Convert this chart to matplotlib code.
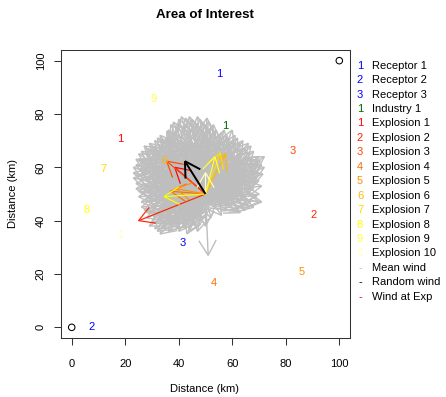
import numpy as np
import matplotlib
matplotlib.use('Agg')
import matplotlib.pyplot as plt
from matplotlib.collections import LineCollection

plt.rcParams['font.family'] = ['Liberation Sans', 'DejaVu Sans']

# ---------------- data ----------------
receptor_x = [55, 7.5, 41.5]
receptor_y = [95, 0, 31.5]
industry_x = [57.2]
industry_y = [75.6]
explosion_x = [18, 90.5, 82.7, 53, 86, 34.5, 12, 5.5, 30.7, 18]
explosion_y = [70.8, 42, 66.3, 16.5, 20.8, 62.5, 59.2, 44, 85.7, 34.6]
explosion_colors = ["#FF0000", "#FF2400", "#FF4900", "#FF6D00", "#FF9200",
                    "#FFB600", "#FFDB00", "#FFFF00", "#FFFF40", "#FFFFBF"]
corner_x = [0, 100]
corner_y = [0, 100]

origin_x, origin_y = 50, 50

# wind at each explosion (arrow tips)
exp_wind_x = [38.5, 25, 35.5, 37, 39, 57.5, 55.5, 34.5, 53.5, 50]
exp_wind_y = [60, 40, 62.3, 51, 52, 65, 65.5, 49, 64, 58]

# random (current) wind arrow tip
random_wind_x = [42.3]
random_wind_y = [62.3]

# mean wind ensemble arrow tips
mean_wind = [
    (36,74),(38,77),(40,78),(42,76),(44,79),(46,77),(48,78),(50,76),(52,75),(54,74),(56,73),
    (39,75),(43,77),(47,79),(51,77),
    (58,72),(60,74),(62,71),(64,70),(66,69),(68,66),(70,64),(72,64),(71,61),(70,58),(69,56),
    (71,53),(70,50),
    (70,47),(71,47),(68,45),(65,44),(66,46),(63,43),
    (58,44),(56,42),(54,45),
    (51,27),(48,40),(46,38),(44,36),(42,37),(39,37),
    (36,36),(33,35),(31,37),(29,38),(28,41),(27,44),
    (26,47),(25,51),(24,54),(24,57),(23,60),(24,63),(25,65),(27,68),(29,69),(31,70),(34,70),
    (33,72),(36,72),
    (35,69),(38,71),(41,70),(44,72),(47,71),(50,70),(53,69),(56,70),(59,68),(62,67),
    (30,65),(33,67),(36,66),(39,68),(42,67),(45,66),(48,68),(51,66),(54,67),(57,65),(60,66),
    (63,64),(66,63),
    (27,61),(30,62),(33,60),(36,63),(39,61),(42,64),(45,62),(48,61),(51,63),(54,61),(57,62),
    (60,60),(63,61),(66,59),(68,61),
    (26,58),(29,57),(32,59),(35,58),(38,56),(41,59),(44,57),(47,58),(50,56),(53,58),(56,57),
    (59,56),(62,58),(65,55),
    (27,53),(30,55),(33,53),(36,54),(39,52),(42,55),(45,53),(48,54),(52,53),(55,52),(58,54),
    (61,52),(64,51),(67,53),
    (28,49),(31,50),(34,48),(37,50),(40,47),(43,49),(46,51),(55,49),(58,48),(61,47),
    (30,45),(33,44),(36,46),(39,43),(42,45),(45,44),(48,46),
    (32,40),(35,42),(38,40),(41,41),(44,40),
    (34,64),(37,59),(40,63),(43,61),(46,64),(41,57),(38,65),(44,68),(36,61),(42,53),
    (39,58),(45,60),(47,55),(35,56),(31,60),(43,73),(49,74),(37,68),(33,62),(29,60),
    (37,76),(41,79),(45,78),(49,77),(53,76),(55,72),(57,74),(59,71),(61,72),(63,69),(65,67),
    (67,68),(69,63),(72,60),(70,55),(68,52),(69,49),(67,47),(64,45),(62,44),(60,45),
    (52,41),(50,38),(47,36),(43,35),(40,36),(37,38),(34,37),(32,36),(30,39),(28,43),(26,45),
    (25,49),(24,52),(23,56),(23,58),(24,61),(25,63),(26,66),(28,67),(30,68),(32,71),(35,71),
    (38,73),
    (31,66),(34,68),(37,70),(40,69),(43,70),(46,69),(49,71),(52,71),(55,68),(58,66),(61,64),
    (64,62),(67,57),
    (28,63),(31,63),(34,61),(37,62),(40,60),(43,63),(46,61),(49,60),(52,60),(55,59),(58,59),
    (61,56),(64,56),
    (28,55),(31,52),(34,55),(37,53),(40,55),(43,55),(46,56),(49,57),(52,56),(55,55),(58,52),
    (62,50),(65,49),
    (29,47),(32,47),(35,45),(38,46),(41,44),(44,46),(47,47),(53,47),(56,46),(59,46),
    (33,42),(36,40),(39,41),(42,42),(45,42),(48,43),(34,39),(37,43),(31,42),(29,51),
    (35.5,73.5),(39.5,76.5),(42.5,78.5),(46.5,75.5),(50.5,78.5),(53.5,72.5),(57.5,70.5),
    (60.5,69.5),(63.5,66.5),(66.5,65.5),(69.5,61.5),(71.5,57.5),(68.5,54.5),(66.5,50.5),
    (63.5,47.5),
    (26.5,50.5),(25.5,55.5),(25.5,59.5),(26.5,62.5),(27.5,65.5),(29.5,66.5),(32.5,68.5),
    (34.5,66.5),(30.5,58.5),(28.5,52.5),(27.5,47.5),(29.5,43.5),(31.5,39.5),(35.5,38.5),
    (38.5,38.5),(41.5,38.5),(44.5,38.5),(46.5,41.5),
    (33.5,70.5),(36.5,68.5),(39.5,70.5),(42.5,71.5),(45.5,73.5),(48.5,72.5),(51.5,73.5),
    (54.5,70.5),(56.5,67.5),(59.5,64.5),(62.5,62.5),(65.5,61.5),(67.5,59.5),(65.5,57.5),
    (62.5,54.5),(59.5,50.5),(56.5,50.5),(53.5,50.5),
    (32.5,64.5),(35.5,64.5),(38.5,62.5),(41.5,65.5),(44.5,64.5),(47.5,66.5),(50.5,67.5),
    (53.5,65.5),(56.5,63.5),(59.5,61.5),(62.5,59.5),(60.5,57.5),(57.5,55.5),(54.5,56.5),
    (29.5,61.5),(32.5,56.5),(35.5,60.5),(38.5,58.5),(41.5,61.5),(44.5,59.5),(47.5,62.5),
    (50.5,61.5),(53.5,62.5),
    (30.5,53.5),(33.5,50.5),(36.5,51.5),(39.5,49.5),(42.5,51.5),(45.5,49.5),(40.5,53.5),
    (37.5,56.5),(34.5,52.5),
    (31.5,48.5),(34.5,46.5),(37.5,47.5),(40.5,45.5),(43.5,43.5),(46.5,44.5),(33.5,43.5),
    (36.5,44.5),(39.5,39.5),(42.5,39.5),(45.5,40.5),(30.5,41.5),
    (61.5,49.5),(63.5,52.5),(66.5,54.5),(68.5,57.5),(60.5,53.5),(57.5,47.5),(54.5,48.5),
    (64.5,59.5),(67.5,63.5),(70.5,62.5),
]
mean_wind_x = [p[0] for p in mean_wind]
mean_wind_y = [p[1] for p in mean_wind]

legend_labels = ["Receptor 1", "Receptor 2", "Receptor 3", "Industry 1"] + \
                ["Explosion %d" % i for i in range(1, 11)] + \
                ["Mean wind", "Random wind", "Wind at Exp"]
legend_symbols = ["1", "2", "3", "1"] + ["1", "2", "3", "4", "5", "6", "7", "8", "9", "1"] + \
                 ["-", "-", "-"]
legend_colors = ["#0000FF"] * 3 + ["#006400"] + explosion_colors + ["#BEBEBE", "#000000", "#FF0000"]

# ---------------- figure ----------------
W, H = 446, 397
fig = plt.figure(figsize=(W / 100, H / 100), dpi=100)
ax = fig.add_axes([61 / W, 1 - 338 / H, (350 - 61) / W, (338 - 50) / H])
ax.set_xlim(-4, 104)
ax.set_ylim(-4, 104)


def arrow_segs(x0, y0, xs, ys, head=6.5, ang=np.radians(30)):
    segs = []
    for x1, y1 in zip(xs, ys):
        segs.append([(x0, y0), (x1, y1)])
        th = np.arctan2(y1 - y0, x1 - x0)
        for s in (1, -1):
            a = th + np.pi + s * ang
            segs.append([(x1, y1), (x1 + head * np.cos(a), y1 + head * np.sin(a))])
    return segs


ax.add_collection(LineCollection(arrow_segs(origin_x, origin_y, mean_wind_x, mean_wind_y),
                                 colors="#BEBEBE", linewidths=1.0, zorder=2))

exp_segs = arrow_segs(origin_x, origin_y, exp_wind_x, exp_wind_y)
exp_cols = [c for c in explosion_colors for _ in range(3)]
ax.add_collection(LineCollection(exp_segs, colors=exp_cols, linewidths=0.85, zorder=3))

ax.add_collection(LineCollection(arrow_segs(origin_x, origin_y, random_wind_x, random_wind_y),
                                 colors="#000000", linewidths=1.4, zorder=4))

ax.scatter(corner_x, corner_y, s=22, facecolors="none", edgecolors="black", linewidths=0.75, zorder=5)

fs = 8
for i, (x, y) in enumerate(zip(receptor_x, receptor_y)):
    ax.text(x, y, str(i + 1), color="#0000FF", fontsize=fs, ha="center", va="center", zorder=6)
for i, (x, y) in enumerate(zip(industry_x, industry_y)):
    ax.text(x, y, str(i + 1), color="#006400", fontsize=fs, ha="center", va="center", zorder=6)
for i, (x, y) in enumerate(zip(explosion_x, explosion_y)):
    ax.text(x, y, str(i + 1)[0], color=explosion_colors[i], fontsize=fs, ha="center",
            va="center", zorder=6)

ax.set_xticks([0, 20, 40, 60, 80, 100])
ax.set_yticks([0, 20, 40, 60, 80, 100])
ax.tick_params(axis="both", labelsize=8, length=5, width=0.75, color="#333333")
ax.tick_params(axis="x", pad=10)
ax.tick_params(axis="y", pad=6)
for lab in ax.get_yticklabels():
    lab.set_rotation(90)
    lab.set_va("center")
for sp in ax.spines.values():
    sp.set_color("#333333")
    sp.set_linewidth(0.75)

fig.text(205 / W, 1 - 15 / H, "Area of Interest", fontsize=9.6, fontweight="bold",
         ha="center", va="center")
fig.text(205 / W, 1 - 389 / H, "Distance (km)", fontsize=8, ha="center", va="center")
fig.text(13 / W, 1 - 194 / H, "Distance (km)", fontsize=8, ha="center", va="center", rotation=90)

y0, dy = 65.7, 14.44
for k, (sym, lab, col) in enumerate(zip(legend_symbols, legend_labels, legend_colors)):
    yy = 1 - (y0 + k * dy) / H
    fig.text(360 / W, yy, sym, color=col, fontsize=8, ha="center", va="center")
    fig.text(372.5 / W, yy, lab, color="black", fontsize=8, ha="left", va="center")

fig.savefig("out.png", dpi=100)
